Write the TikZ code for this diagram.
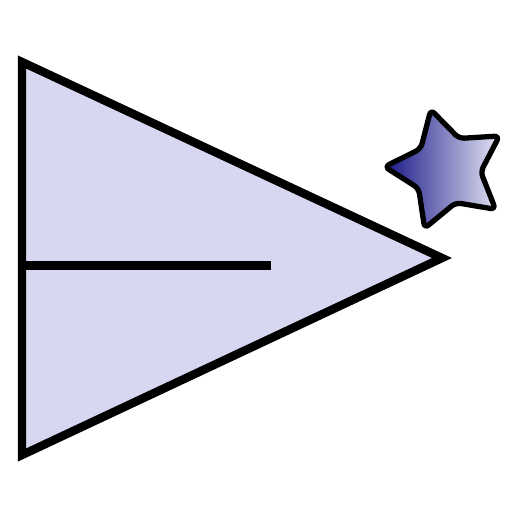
\documentclass[tikz,border=0pt]{standalone}
\usepackage{tikz}
\usetikzlibrary{shapes.geometric, positioning}
\definecolor{tilavender}{HTML}{D7D7F2}
\definecolor{tideep}{HTML}{181888}
\definecolor{tipale}{HTML}{E4E4F4}

\begin{document}
\begin{tikzpicture}[
  x=0.02cm, y=-0.02cm,
  wedge/.style={draw=black, fill=tilavender,
    line width=4.8pt, line join=miter},
  bar/.style={draw=black, line width=5pt},
  spark/.style={star, star points=5, star point ratio=1.85,
    minimum size=2.5cm, inner sep=0pt, rotate=15,
    draw=black, line width=3pt, rounded corners=3pt,
    left color=tideep, right color=tipale}
]
  \useasboundingbox (0,0) rectangle (512,512);

  % Triangle
  \coordinate (top) at (22,62);
  \coordinate (bot) at (22,455);
  \coordinate (tip) at (442,258);
  \draw[wedge] (top) -- (tip) -- (bot) -- cycle;

  % Horizontal bar
  \coordinate (barL) at (22,265.5);
  \coordinate (barR) at (271,265.5);
  \draw[bar] (barL) -- (barR);

  % Star
  \node[spark] (star) at (447,170) {};
\end{tikzpicture}
\end{document}
